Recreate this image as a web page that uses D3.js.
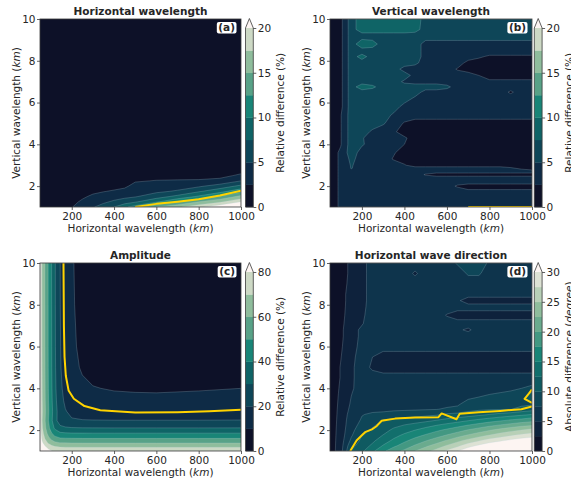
<!DOCTYPE html>
<html>
<head>
<meta charset="utf-8">
<script src="https://cdn.jsdelivr.net/npm/d3@7"></script>
<style>
  body { margin: 0; background: #fff; }
  svg text { font-family: "DejaVu Sans", sans-serif; fill: #262626; }
</style>
</head>
<body>
<svg id="fig" width="571" height="485"></svg>
<script>
// ---- data ----
// common axis ticks
const xTicks = [200, 400, 600, 800, 1000];
const yTicks = [2, 4, 6, 8, 10];

// (a) horizontal wavelength, relative difference (%)
const levelsA = [0, 2.5, 5, 7.5, 10, 12.5, 15, 17.5, 20];
const cbTicksA = [0, 5, 10, 15, 20];
const xA = [50, 100, 150, 200, 250, 300, 350, 400, 450, 500, 600, 700, 800, 900, 1000];
const yA = [1, 1.25, 1.5, 1.75, 2, 2.25, 2.5, 2.75, 3, 10];
const zA = [
  [1.0, 1.0, 1.5, 2.4, 3.5, 4.8, 6.0, 7.5, 9.5, 11.0, 15.0, 17.0, 19.5, 22.0, 23.0],
  [0.9, 0.9, 1.2, 1.8, 2.9, 3.9, 4.55, 5.4, 6.25, 7.2, 9.6, 12.5, 15.0, 17.0, 20.0],
  [0.8, 0.8, 0.8, 1.2, 2.1, 2.95, 3.5, 4.0, 4.4, 4.8, 6.4, 8.2, 10.4, 12.9, 15.8],
  [0.8, 0.8, 0.8, 0.9, 1.2, 2.0, 2.4, 2.75, 3.15, 4.0, 4.5, 5.3, 7.2, 9.1, 11.7],
  [0.7, 0.7, 0.7, 0.8, 0.9, 1.0, 1.5, 1.75, 2.1, 3.2, 3.5, 3.9, 4.6, 6.1, 8.1],
  [0.7, 0.7, 0.7, 0.7, 0.8, 0.8, 0.9, 0.9, 1.1, 2.3, 2.6, 2.65, 2.7, 3.1, 5.0],
  [0.6, 0.6, 0.6, 0.6, 0.7, 0.7, 0.8, 0.8, 0.9, 1.4, 1.8, 1.9, 1.9, 1.9, 2.9],
  [0.6, 0.6, 0.6, 0.6, 0.6, 0.6, 0.7, 0.7, 0.8, 1.0, 1.0, 1.1, 1.1, 1.15, 1.8],
  [0.5, 0.5, 0.5, 0.5, 0.5, 0.5, 0.6, 0.6, 0.6, 0.7, 0.7, 0.8, 0.8, 0.9, 1.0],
  [0.5, 0.5, 0.5, 0.5, 0.5, 0.5, 0.5, 0.5, 0.5, 0.5, 0.5, 0.5, 0.5, 0.5, 0.5]
];
const yellowA = [[500, 1], [600, 1.15], [700, 1.25], [800, 1.37], [900, 1.55], [1000, 1.78]];

// (b) vertical wavelength, relative difference (%)
const levelsB = [0, 2.5, 5, 7.5, 10, 12.5, 15, 17.5, 20];
const cbTicksB = [0, 5, 10, 15, 20];
const xB = [50, 100, 150, 200, 250, 300, 350, 400, 450, 500, 550, 600, 650, 700, 750, 800, 850, 900, 950, 1000];
const yB = [1, 1.5, 1.8, 2.0, 2.2, 2.4, 2.55, 2.7, 2.85, 3.0, 3.3, 3.6, 4.0, 4.3, 4.6, 5.0, 5.4, 5.8, 6.2, 6.5, 6.75, 7.0, 7.3, 7.6, 7.9, 8.2, 8.45, 8.8, 9.2, 9.5, 10];
const zB = [
  [1, 3, 4, 4, 4, 4, 4, 4, 4, 4, 4, 4, 4, 4, 4, 4, 4, 4, 4, 4],
  [1, 3, 4, 4, 4, 4, 4, 4, 4, 4, 4, 4, 4, 4, 4, 4, 4, 4, 4, 4],
  [1, 3, 4, 4, 4, 4, 4, 4, 4, 4, 4, 4, 4, 2.8, 2.8, 2.8, 2.8, 2.8, 2.8, 2.8],
  [1, 3, 4, 4, 4, 4, 4, 4, 4, 4, 4, 4, 2, 1, 1, 1, 1, 1, 1, 1],
  [1, 3, 4, 4, 4, 4, 4, 4, 4, 4, 4, 4, 4, 4, 4, 4, 4, 4, 4, 4],
  [1, 3, 4, 4, 4, 4, 4, 4, 4, 4, 4, 4, 4, 4, 4, 4, 4, 4, 4, 4],
  [1, 3, 4, 4, 4, 4, 4, 4, 4, 2.2, 1, 1, 1, 1, 1, 1, 1, 1, 1, 1],
  [1, 3, 4.5, 4, 4, 4, 4, 4, 4, 4, 4, 4, 4, 4, 4, 4, 4, 4, 4, 4],
  [1, 3, 5.1, 4, 4, 4, 4, 4, 4, 4, 4, 4, 4, 4, 4, 4, 4, 3, 2, 1],
  [1, 3, 5.2, 4, 4, 4, 4, 2.8, 1, 1, 1, 1, 1, 1, 1, 1, 1, 1, 1, 1],
  [1, 3, 5.6, 4, 4, 4, 2.2, 1, 1, 1, 1, 1, 1, 1, 1, 1, 1, 1, 1, 1],
  [1, 3, 6.3, 4, 4, 4, 2.8, 1, 1, 1, 1, 1, 1, 1, 1, 1, 1, 1, 1, 1],
  [1, 2.3, 6.3, 5.3, 4, 4, 4, 2.5, 1, 1, 1, 1, 1, 1, 1, 1, 1, 1, 1, 1],
  [1, 2.3, 6.3, 5.2, 4, 4, 4, 3, 1, 1, 1, 1, 1, 1, 1, 1, 1, 1, 1, 1],
  [1, 2.3, 6.3, 6.3, 4.5, 4, 3, 1, 1, 1, 1, 1, 1, 1, 1, 1, 1, 1, 1, 1],
  [1, 2.3, 6.3, 6.3, 6.3, 5.2, 4, 2.2, 1, 1, 1, 1, 1, 1, 1, 1, 1, 1, 1, 1],
  [1, 2.3, 6.3, 6.3, 6.3, 6.3, 4.5, 4, 4, 4, 4, 4, 4, 4, 4, 4, 4, 4, 4, 4],
  [1, 1.8, 6.3, 6.3, 6.3, 6.3, 6.3, 4, 4, 4, 4, 4, 4, 4, 4, 4, 4, 4, 4, 4],
  [1, 1.8, 6.3, 6.3, 6.3, 6.3, 6.3, 6.3, 4.5, 4, 4, 4, 4, 4, 4, 4, 4, 4, 4, 4],
  [1, 1.8, 6.3, 6.3, 6.3, 6.3, 6.3, 6.3, 6.3, 4, 4, 4, 4, 4, 4, 4, 4, 2, 4, 4],
  [1, 1.8, 6.3, 9, 8, 6.3, 6.3, 6.3, 6.3, 6.3, 6.3, 5.5, 4, 4, 4, 4, 4, 4, 4, 4],
  [1, 1.8, 6.3, 6.3, 6.3, 6.3, 6.3, 4.5, 4, 4, 4, 4, 4, 4, 4, 3.2, 3.2, 3.2, 3.2, 3.2],
  [1, 1.8, 6.3, 6.3, 6.3, 6.3, 6.3, 6.3, 4, 4, 4, 4, 4, 4, 2.5, 1, 1, 1, 1, 1],
  [1, 1.8, 6.3, 6.3, 6.3, 6.3, 6.3, 4, 4, 4, 4, 4, 2.2, 1, 1, 1, 1, 1, 1, 1],
  [1, 1.8, 6.3, 6.3, 6.3, 6.3, 6.3, 6.3, 5.5, 4, 4, 4, 4, 1.5, 1, 1, 1, 1, 1, 1],
  [1, 1.8, 6.3, 8.5, 6.3, 6.3, 6.3, 6.3, 6.3, 4, 4, 4, 4, 4, 3, 2, 2, 2, 2, 2],
  [1, 1.8, 6.3, 6.3, 6.3, 6.3, 6.3, 6.3, 6.3, 4, 4, 4, 4, 4, 4, 4, 4, 4, 4, 4],
  [1, 1.8, 6.3, 9, 8.5, 6.3, 6.3, 6.3, 6.3, 4, 4, 4, 4, 4, 4, 4, 4, 4, 4, 4],
  [1, 1.8, 6.3, 6.3, 6.3, 6.3, 6.3, 6.3, 6.3, 6.3, 6.3, 6.3, 6.3, 6.3, 6.3, 6.3, 6.3, 6.3, 6.3, 6.3],
  [1, 1.8, 6.3, 9, 9, 9, 9, 9, 8.5, 6.3, 6.3, 6.3, 6.3, 6.3, 6.3, 6.3, 6.3, 6.3, 6.3, 6.3],
  [1, 1.8, 6.3, 9, 9, 9, 9, 9, 9, 6.3, 6.3, 6.3, 6.3, 6.3, 6.3, 6.3, 6.3, 6.3, 6.3, 6.3]
];
const yellowB = [[700, 1], [1000, 1]];

// (c) amplitude, relative difference (%)
const levelsC = [0, 10, 20, 30, 40, 50, 60, 70, 80];
const cbTicksC = [0, 20, 40, 60, 80];
const xC = [50, 60, 75, 90, 105, 120, 145, 170, 200, 250, 300, 400, 500, 600, 800, 1000];
const yC = [1, 1.2, 1.4, 1.6, 1.85, 2.1, 2.45, 2.9, 3.4, 4, 5, 6, 8, 10];
const zC = [
  [102.3, 92.8, 87.1, 83.1, 80.4, 78.6, 77.5, 77.2, 77.1, 77.0, 77.0, 77.0, 77.0, 77.0, 77.0, 77.1],
  [98.1, 87.6, 81.1, 76.4, 73.2, 71.0, 69.6, 69.4, 69.3, 69.2, 69.2, 69.2, 69.2, 69.2, 69.2, 69.3],
  [93.6, 81.8, 74.3, 68.6, 64.6, 61.7, 59.8, 59.5, 59.3, 59.2, 59.2, 59.2, 59.2, 59.2, 59.2, 59.2],
  [90.4, 77.6, 69.1, 62.4, 57.4, 53.7, 51.0, 50.6, 50.4, 50.2, 50.2, 50.2, 50.2, 50.2, 50.2, 50.2],
  [87.9, 74.1, 64.6, 56.6, 50.4, 45.4, 41.6, 40.8, 40.4, 40.3, 40.2, 40.2, 40.2, 40.2, 40.2, 40.2],
  [86.2, 71.8, 61.5, 52.5, 45.0, 38.4, 32.7, 31.3, 30.6, 30.3, 30.2, 30.2, 30.2, 30.2, 30.2, 30.2],
  [85.4, 70.5, 59.8, 50.1, 41.6, 33.6, 25.2, 22.3, 20.9, 20.5, 20.4, 20.3, 20.3, 20.3, 20.3, 20.4],
  [86.2, 71.5, 60.8, 51.1, 42.5, 34.2, 24.7, 20.5, 17.9, 16.1, 15.3, 14.8, 14.6, 14.6, 14.8, 15.2],
  [85.8, 70.9, 60.1, 50.3, 41.6, 33.1, 23.1, 18.5, 15.6, 13.5, 12.5, 11.9, 11.7, 11.6, 11.9, 12.3],
  [85.5, 70.6, 59.7, 49.8, 41.0, 32.3, 21.9, 17.1, 13.8, 11.4, 10.3, 9.5, 9.2, 9.1, 9.5, 10.0],
  [85.2, 70.3, 59.3, 49.4, 40.4, 31.6, 20.9, 15.7, 12.1, 9.2, 7.8, 6.7, 6.3, 6.2, 6.7, 7.5],
  [85.1, 70.1, 59.2, 49.2, 40.3, 31.3, 20.5, 15.2, 11.4, 8.3, 6.7, 5.4, 4.9, 4.7, 5.4, 6.4],
  [85.1, 70.1, 59.1, 49.1, 40.1, 31.1, 20.2, 14.8, 10.9, 7.6, 5.8, 4.2, 3.6, 3.4, 4.2, 5.4],
  [85.0, 70.0, 59.0, 49.0, 40.0, 31.1, 20.1, 14.6, 10.7, 7.3, 5.4, 3.6, 2.8, 2.5, 3.6, 4.9]
];
const yellowC = [[161, 10], [163, 7], [166, 5.5], [172, 4.6], [185, 3.9], [210, 3.5], [260, 3.15],
  [335, 2.95], [500, 2.84], [700, 2.86], [850, 2.9], [1000, 2.97]];

// (d) horizontal wave direction, absolute difference (degree)
const levelsD = [0, 2.5, 5, 7.5, 10, 12.5, 15, 17.5, 20, 22.5, 25, 27.5, 30];
const cbTicksD = [0, 5, 10, 15, 20, 25, 30];
const xD = [50, 100, 150, 200, 250, 300, 350, 400, 450, 500, 550, 600, 650, 700, 750, 800, 850, 900, 950, 1000];
const yD = [1, 1.25, 1.5, 1.75, 2, 2.25, 2.5, 2.75, 3, 3.25, 3.5, 3.75, 4, 4.5, 5, 5.5, 6, 6.5, 6.8, 7.1, 7.5, 7.9, 8.2, 8.5, 9, 9.5, 10];
const zD = [
  [1, 4.0, 10.2, 12.0, 14.5, 17.0, 19.0, 20.5, 22.5, 24.0, 26.0, 28.0, 30.0, 32.0, 33.5, 35.0, 36.0, 37.0, 38.0, 39.0],
  [1, 3.9, 9.2, 11.2, 13.0, 15.2, 17.0, 18.6, 20.3, 22.0, 23.5, 25.3, 27.0, 29.0, 30.5, 32.0, 33.0, 34.0, 35.0, 35.5],
  [1, 3.8, 8.0, 10.6, 12.0, 13.8, 15.5, 17.0, 18.4, 19.8, 21.2, 22.7, 24.3, 25.8, 27.3, 28.6, 29.6, 30.6, 31.5, 32.0],
  [1, 3.7, 7.2, 10.0, 11.2, 12.6, 14.2, 15.5, 16.7, 17.8, 19.0, 20.2, 21.5, 22.8, 24.0, 25.2, 26.3, 27.3, 28.2, 28.8],
  [1, 3.6, 6.8, 9.0, 10.4, 11.6, 13.0, 14.0, 15.0, 16.0, 17.0, 18.0, 19.0, 20.2, 21.2, 22.3, 23.3, 24.2, 25.0, 26.0],
  [1, 3.5, 6.5, 8.2, 9.6, 10.8, 11.8, 12.5, 13.2, 14.0, 14.8, 15.6, 16.5, 17.4, 18.3, 19.2, 20.0, 20.8, 21.6, 22.0],
  [1, 3.4, 6.3, 7.7, 8.6, 10.0, 10.3, 10.6, 11.0, 11.5, 12.2, 13.0, 13.6, 14.4, 15.2, 16.0, 16.7, 17.4, 18.0, 18.8],
  [1, 3.3, 6.0, 7.4, 7.8, 8.2, 8.6, 8.8, 9.0, 9.3, 9.6, 10.4, 10.7, 11.2, 11.8, 12.5, 13.2, 13.8, 14.4, 15.0],
  [1, 3.2, 5.6, 6.8, 7.0, 6.8, 7.0, 7.1, 7.2, 7.3, 7.4, 7.8, 8.0, 9.0, 9.5, 9.7, 9.8, 9.9, 10.8, 11.5],
  [1, 3.1, 5.3, 6.5, 6.5, 6.4, 6.4, 6.4, 6.4, 6.5, 6.6, 6.9, 7.2, 8.3, 8.5, 8.5, 8.6, 8.8, 9.4, 9.6],
  [1, 3.0, 5.1, 6.3, 6.3, 6.3, 6.3, 6.4, 6.4, 6.5, 6.5, 6.6, 6.8, 7.4, 7.8, 8.0, 8.2, 8.4, 9.5, 11.0],
  [1, 2.9, 4.9, 6.3, 6.3, 6.3, 6.3, 6.3, 6.3, 6.3, 6.3, 6.3, 6.3, 6.6, 6.9, 7.4, 7.6, 7.8, 8.2, 10.6],
  [1, 2.8, 4.6, 6.3, 6.3, 6.3, 6.3, 6.3, 6.3, 6.3, 6.3, 6.3, 6.3, 6.3, 6.3, 6.3, 7.0, 7.2, 7.5, 8.0],
  [1, 2.6, 4.5, 6.3, 6.3, 6.3, 6.3, 6.3, 6.3, 6.3, 6.3, 6.3, 6.3, 6.3, 6.3, 6.3, 6.3, 6.3, 6.3, 6.3],
  [1, 2.6, 4.5, 6.3, 4.5, 3.5, 3.5, 3.5, 3.5, 3.5, 3.5, 3.5, 3.5, 3.5, 3.5, 3.5, 3.5, 3.5, 3.5, 3.5],
  [1, 2.4, 4.2, 6.3, 5.0, 3.5, 3.5, 3.5, 3.5, 3.5, 3.5, 3.5, 3.5, 3.5, 3.5, 3.5, 3.5, 3.5, 3.5, 3.5],
  [1, 2.2, 4.0, 5.8, 6.3, 6.3, 6.3, 6.3, 6.3, 6.3, 6.3, 6.3, 6.3, 6.3, 6.3, 6.3, 6.3, 6.3, 6.3, 6.3],
  [1, 2.0, 4.0, 5.5, 6.3, 6.3, 6.3, 6.3, 6.3, 6.3, 6.3, 6.3, 6.3, 6.3, 6.3, 6.3, 6.3, 6.3, 6.3, 6.3],
  [1, 2.0, 4.0, 5.5, 6.3, 6.3, 6.3, 6.3, 6.3, 6.3, 6.3, 6.3, 5.5, 4.5, 6.3, 6.3, 6.3, 6.3, 6.3, 6.3],
  [1, 1.9, 3.8, 4.8, 6.3, 6.3, 6.3, 6.3, 6.3, 6.3, 6.3, 6.3, 6.3, 6.3, 6.3, 6.3, 6.3, 6.3, 6.3, 6.3],
  [1, 1.8, 3.6, 4.5, 6.3, 6.3, 6.3, 6.3, 6.3, 6.3, 6.3, 4.8, 3.5, 3.5, 3.5, 3.5, 3.5, 3.5, 3.5, 3.5],
  [1, 1.7, 3.5, 4.2, 6.3, 6.3, 6.3, 6.3, 6.3, 6.3, 6.3, 6.3, 6.3, 6.3, 6.3, 6.3, 6.3, 6.3, 6.3, 6.3],
  [1, 1.6, 3.5, 4.0, 6.3, 6.3, 6.3, 6.3, 6.3, 6.3, 6.3, 6.3, 5.5, 3.5, 3.5, 3.5, 3.5, 3.5, 3.5, 3.5],
  [1, 1.6, 3.5, 4.0, 6.3, 6.3, 6.3, 6.3, 6.3, 6.3, 6.3, 6.3, 6.3, 6.3, 6.3, 6.3, 6.3, 6.3, 6.3, 6.3],
  [1, 1.5, 3.2, 4.0, 6.3, 6.3, 6.3, 6.3, 6.3, 6.3, 6.3, 6.3, 6.3, 6.3, 6.3, 6.3, 6.3, 6.3, 6.3, 6.3],
  [1, 1.5, 3.0, 4.0, 6.3, 6.3, 6.3, 6.3, 4.6, 6.3, 6.3, 6.3, 6.3, 7.8, 7.8, 6.3, 6.3, 6.3, 6.3, 6.3],
  [1, 1.5, 3.0, 4.0, 6.3, 6.3, 6.3, 6.3, 6.3, 6.3, 6.3, 6.3, 7.8, 9.0, 9.0, 7.0, 6.3, 6.3, 6.3, 6.3]
];
const yellowD = [[145, 1], [160, 1.25], [175, 1.5], [200, 1.75], [215, 1.9], [250, 2.05], [270, 2.2],
  [293, 2.45], [356, 2.55], [450, 2.6], [560, 2.62], [575, 2.8], [645, 2.52], [660, 2.78],
  [750, 2.85], [850, 2.92], [950, 3.0], [1000, 3.13]];
const yellowD2 = [[1000, 3.3], [965, 3.5], [985, 3.75], [1000, 3.95]];

// ---- colours (reversed "tempo"-like map) ----
const cmap = d3.scaleLinear()
  .domain([0, 0.125, 0.25, 0.375, 0.5, 0.625, 0.75, 0.875, 1])
  .range(['#0d1128', '#0e2b46', '#0e4658', '#0f6466', '#198577', '#58a287', '#8fbd9c', '#cdd9c5', '#fdf5f2'])
  .interpolate(d3.interpolateRgb);

const svg = d3.select('#fig');
const defs = svg.append('defs');
const H = 188;

const panels = [
  {key: 'a', title: 'Horizontal wavelength', xs: xA, ys: yA, z: zA, levels: levelsA, cbTicks: cbTicksA,
   lines: [yellowA], left: 40, top: 19, width: 201, cbX: 245.5, cbLabel: ['Relative difference (%)']},
  {key: 'b', title: 'Vertical wavelength', xs: xB, ys: yB, z: zB, levels: levelsB, cbTicks: cbTicksB,
   lines: [yellowB], left: 330, top: 19, width: 202, cbX: 534.3, cbLabel: ['Relative difference (%)']},
  {key: 'c', title: 'Amplitude', xs: xC, ys: yC, z: zC, levels: levelsC, cbTicks: cbTicksC,
   lines: [yellowC], left: 40, top: 263, width: 201, cbX: 245.5, cbLabel: ['Relative difference (%)']},
  {key: 'd', title: 'Horizontal wave direction', xs: xD, ys: yD, z: zD, levels: levelsD, cbTicks: cbTicksD,
   lines: [yellowD, yellowD2], left: 330, top: 263, width: 202, cbX: 534.3, cbLabel: ['Absolute difference (', 'degree', ')']}
];

function italicText(sel, parts) {
  // parts: [plain, italic, plain]
  parts.forEach((t, i) => sel.append('tspan').attr('font-style', i === 1 ? 'italic' : null).text(t));
}

panels.forEach(p => {
  const x = d3.scaleLinear().domain([50, 1000]).range([p.left, p.left + p.width]);
  const y = d3.scaleLinear().domain([1, 10]).range([p.top + H, p.top]);
  const g = svg.append('g');
  defs.append('clipPath').attr('id', 'clip-' + p.key).append('rect')
    .attr('x', p.left).attr('y', p.top).attr('width', p.width).attr('height', H);
  const body = g.append('g').attr('clip-path', 'url(#clip-' + p.key + ')');

  const nb = p.levels.length - 1;
  const col = k => k >= nb ? cmap(1) : cmap(k / nb);

  body.append('rect').attr('x', p.left).attr('y', p.top).attr('width', p.width).attr('height', H)
    .attr('fill', col(0));

  // grid index -> data coordinate (non-uniform grid)
  const nx = p.xs.length, ny = p.ys.length;
  const gx = d3.scaleLinear().domain(d3.range(nx)).range(p.xs).clamp(true);
  const gy = d3.scaleLinear().domain(d3.range(ny)).range(p.ys).clamp(true);
  const path = d3.geoPath(d3.geoTransform({
    point(px, py) { this.stream.point(x(gx(px - 0.5)), y(gy(py - 0.5))); }
  }));
  const bands = d3.contours().size([nx, ny]).thresholds(p.levels.slice(1))(p.z.flat());
  body.selectAll('path.band').data(bands).join('path')
    .attr('class', 'band')
    .attr('d', path)
    .attr('fill', (d, i) => col(i + 1))
    .attr('stroke', 'rgba(185,212,220,0.45)')
    .attr('stroke-width', 0.5);

  const line = d3.line().x(d => x(d[0])).y(d => y(d[1]));
  p.lines.forEach(l => {
    body.append('path').attr('d', line(l)).attr('fill', 'none')
      .attr('stroke', '#ffd300').attr('stroke-width', 2).attr('stroke-linejoin', 'round');
  });

  // frame
  g.append('rect').attr('x', p.left).attr('y', p.top).attr('width', p.width).attr('height', H)
    .attr('fill', 'none').attr('stroke', '#3a3a3a').attr('stroke-width', 0.8);

  // axes
  const fmt = d3.format('d');
  const ax = g.append('g').attr('transform', `translate(0,${p.top + H})`)
    .call(d3.axisBottom(x).tickValues(xTicks).tickFormat(fmt).tickSize(3).tickPadding(3));
  const ay = g.append('g').attr('transform', `translate(${p.left},0)`)
    .call(d3.axisLeft(y).tickValues(yTicks).tickFormat(fmt).tickSize(3).tickPadding(1.5));
  [ax, ay].forEach(a => {
    a.select('.domain').remove();
    a.selectAll('line').attr('stroke', '#3a3a3a').attr('stroke-width', 0.8);
    a.selectAll('text').attr('font-size', 10.5).attr('font-family', 'DejaVu Sans').attr('fill', '#262626');
  });

  // axis labels
  const xl = g.append('text').attr('x', p.left + p.width / 2).attr('y', p.top + H + 24.5)
    .attr('text-anchor', 'middle').attr('font-size', 10.5);
  italicText(xl, ['Horizontal wavelength (', 'km', ')']);
  const yl = g.append('text')
    .attr('transform', `translate(${p.left - 20.5},${p.top + H / 2}) rotate(-90)`)
    .attr('text-anchor', 'middle').attr('font-size', 10.5);
  italicText(yl, ['Vertical wavelength (', 'km', ')']);

  // title
  g.append('text').attr('x', p.left + p.width / 2).attr('y', p.top - 4.3)
    .attr('text-anchor', 'middle').attr('font-size', 10.5).attr('font-weight', 'bold').text(p.title);

  // panel letter
  const lt = g.append('text').attr('x', p.left + p.width - 6).attr('y', p.top + 12.3)
    .attr('text-anchor', 'end').attr('font-size', 10.5).attr('font-weight', 'bold')
    .text('(' + p.key + ')');
  const bb = lt.node().getBBox();
  g.insert('rect', () => lt.node())
    .attr('x', bb.x - 1.5).attr('y', p.top + 3).attr('width', bb.width + 3).attr('height', 11.5)
    .attr('rx', 2).attr('fill', '#fff');

  // colourbar
  const cbW = 7.8, cbTop = p.top + 9, cbBot = p.top + H, tip = p.top - 0.5;
  const cy = d3.scaleLinear().domain([p.levels[0], p.levels[nb]]).range([cbBot, cbTop]);
  const cb = g.append('g');
  cb.selectAll('rect').data(d3.range(nb)).join('rect')
    .attr('x', p.cbX).attr('width', cbW)
    .attr('y', k => cy(p.levels[k + 1]))
    .attr('height', k => cy(p.levels[k]) - cy(p.levels[k + 1]) + 0.3)
    .attr('fill', k => col(k));
  const outline = `M${p.cbX},${cbBot}L${p.cbX},${cbTop}L${p.cbX + cbW / 2},${tip}L${p.cbX + cbW},${cbTop}L${p.cbX + cbW},${cbBot}Z`;
  cb.append('path')
    .attr('d', `M${p.cbX},${cbTop}L${p.cbX + cbW / 2},${tip}L${p.cbX + cbW},${cbTop}Z`)
    .attr('fill', col(nb));
  cb.append('path').attr('d', outline).attr('fill', 'none').attr('stroke', '#3a3a3a').attr('stroke-width', 0.8);
  const cax = cb.append('g').attr('transform', `translate(${p.cbX + cbW},0)`)
    .call(d3.axisRight(cy).tickValues(p.cbTicks).tickFormat(fmt).tickSize(3).tickPadding(1.5));
  cax.select('.domain').remove();
  cax.selectAll('line').attr('stroke', '#3a3a3a').attr('stroke-width', 0.8);
  cax.selectAll('text').attr('font-size', 10.5).attr('font-family', 'DejaVu Sans').attr('fill', '#262626');

  // colourbar label (cut by the right edge for the right-hand panels, as in the original)
  const cl = cb.append('text')
    .attr('transform', `translate(${p.cbX + cbW + 31},${(tip + cbBot) / 2}) rotate(-90)`)
    .attr('text-anchor', 'middle').attr('font-size', 10.5);
  italicText(cl, p.cbLabel);
});
</script>
</body>
</html>
